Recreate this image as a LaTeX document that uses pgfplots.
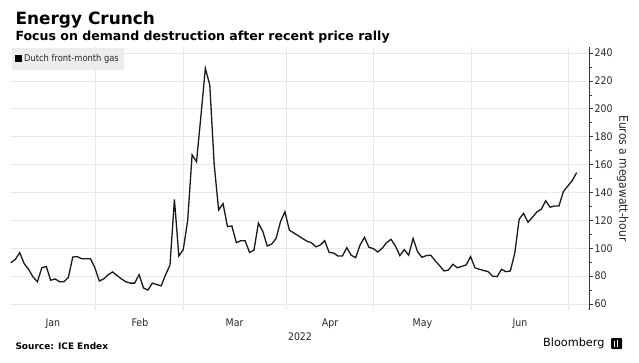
\documentclass[border=0pt]{standalone}
\usepackage{pgfplots}
\pgfplotsset{compat=1.18}
\usepackage{fontspec}
\setmainfont{DejaVu Sans}
\newfontfamily\condfont{DejaVu Sans Condensed}
\pgfplotstableread{
i v
0 89.6
1 92
2 96.8
3 89
4 85
5 79.4
6 76
7 86
8 87
9 77
10 78
11 76
12 76
13 79
14 93.7
15 94
16 92.5
17 92.5
18 92.5
19 86
20 76.5
21 78
22 81
23 83
24 80.5
25 78
26 76
27 75
28 75
29 81
30 71.5
31 70
32 75
33 74
34 73
35 81
36 88
37 135
38 94.4
39 99
40 120
41 167
42 162
43 195
44 229
45 217
46 160
47 127.4
48 132
49 115.5
50 116
51 104
52 105.4
53 105.4
54 97
55 98.7
56 118
57 112
58 101.6
59 103
60 107
61 119
62 126.2
63 113
64 111
65 109
66 107
67 105
68 104
69 101
70 102.3
71 105.4
72 97
73 96.6
74 94.4
75 94.4
76 100.4
77 95
78 93.2
79 102.3
80 107.8
81 100.7
82 99.7
83 97.3
84 100
85 104
86 106.4
87 101.6
88 94.7
89 99
90 95
91 107
92 97.5
93 93.5
94 94.7
95 95
96 91
97 87.5
98 83.7
99 84.4
100 88.5
101 86
102 87
103 88
104 94
105 86
106 84.9
107 84
108 83.2
109 80
110 79.6
111 84.9
112 83.2
113 83.7
114 96.4
115 120.8
116 125
117 118.6
118 122.2
119 126
120 128
121 134
122 129.4
123 130.3
124 130.3
125 140.6
126 144.6
127 148.5
128 154.2
}\gas
\begin{document}
\begin{tikzpicture}[x=1bp,y=1bp]
\useasboundingbox (0,0) rectangle (639,362);
\begin{axis}[
  at={(10bp,52.4bp)}, anchor=south west,
  scale only axis, width=579bp, height=262.2bp,
  xmin=-0.2, xmax=130.8, ymin=56, ymax=244,
  axis y line*=right, axis x line*=bottom,
  x axis line style={draw=none},
  y axis line style={draw=black!80, line width=0.6bp, -},
  xtick={19.2,39.1,62.2,82.1,104.1,126.2}, xticklabels={},
  xmajorgrids, ymajorgrids,
  grid style={draw=black!9, line width=0.6bp},
  ytick={60,80,...,240},
  minor ytick={70,90,...,230},
  tick align=outside,
  xtick style={draw=none},
  ytick style={draw=black!80, line width=0.6bp},
  major tick length=4bp, minor tick length=2.5bp,
  extra x ticks={9.5,29.2,50.6,72.2,93.1,115.2},
  extra x tick labels={Jan,Feb,Mar,Apr,May,Jun},
  extra x tick style={grid=none, xtick style={draw=none}},
  xticklabel style={font=\condfont\fontsize{10.5}{12}\selectfont, text=black!85, yshift=-1.5bp},
  yticklabel style={font=\condfont\fontsize{10.5}{12}\selectfont, text=black!85, anchor=west, xshift=-2bp},
  /pgf/number format/assume math mode=true,
  ylabel={Euros a megawatt-hour},
  ylabel style={font=\condfont\fontsize{12}{14}\selectfont, text=black!85, rotate=180, at={(axis description cs:1.058,0.5)}, anchor=center},
  legend style={at={(axis description cs:0.0035,0.998)}, anchor=north west, fill=black!7, draw=none,
    font=\condfont\fontsize{9.3}{11}\selectfont, inner xsep=3bp, inner ysep=4.5bp, text=black!85},
  legend image code/.code={\fill[black] (0bp,-2.8bp) rectangle (5.6bp,2.8bp);},
  legend cell align=left,
]
\addplot[color=black!90, line width=1.3bp, mark=none] table[x=i, y=v] {\gas};
\addlegendentry{Dutch front-month gas}
\end{axis}
\node[anchor=base west, font=\bfseries\fontsize{17}{20}\selectfont] at (12,362-24.3) {Energy Crunch};
\node[anchor=base west, font=\bfseries\fontsize{12.6}{15}\selectfont] at (12,362-40) {Focus on demand destruction after recent price rally};
\node[font=\condfont\fontsize{10.5}{12}\selectfont, text=black!85] at (300,362-337) {2022};
\node[anchor=west, font=\bfseries\fontsize{9}{11}\selectfont] at (12,362-346) {Source: ICE Endex};
\node[anchor=east, font=\fontsize{11.3}{13}\selectfont] at (608,362-343) {Bloomberg};
\fill[black, rounded corners=1bp] (611,362-349) rectangle (622,362-338);
\fill[white] (613.5,362-346.5) rectangle (615,362-341);
\fill[white] (616.5,362-346.5) rectangle (618,362-340);
\end{tikzpicture}
\end{document}
